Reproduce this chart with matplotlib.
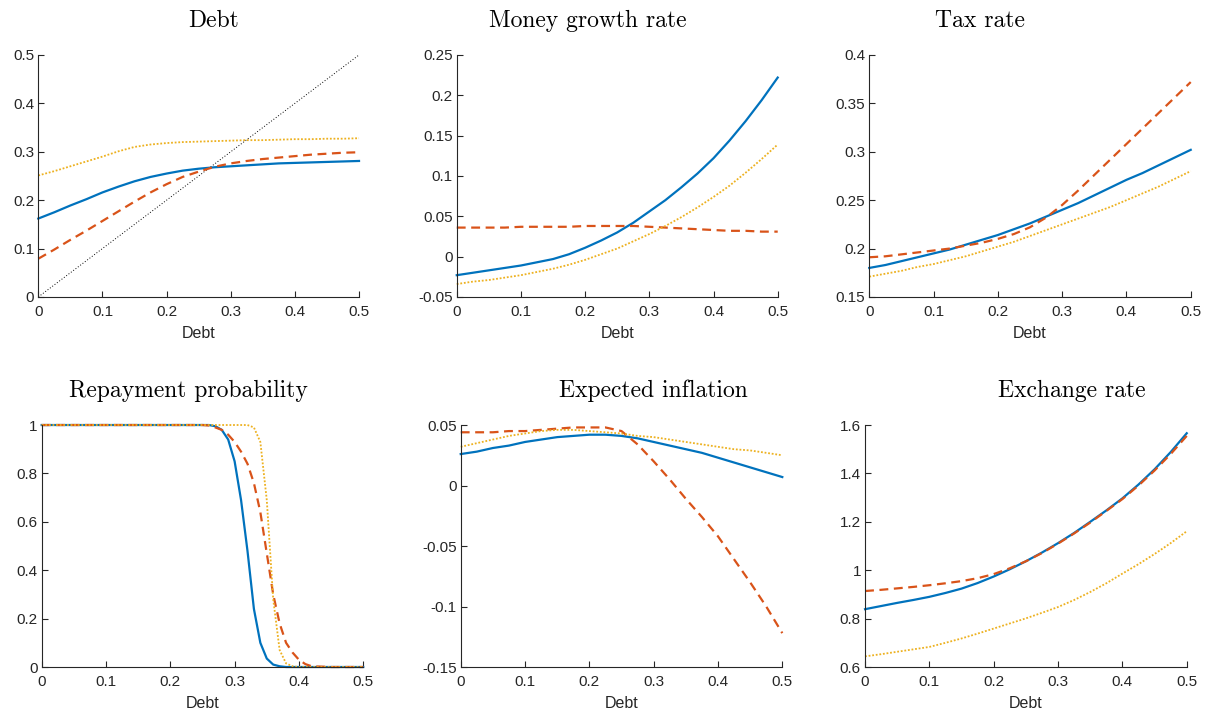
import matplotlib
matplotlib.use("Agg")
import matplotlib.pyplot as plt
from matplotlib.ticker import FuncFormatter

plt.rcParams['font.family'] = ['Liberation Sans', 'DejaVu Sans']
plt.rcParams['axes.unicode_minus'] = False

# common debt grid (step 0.025)
debt = [0, 0.025, 0.05, 0.075, 0.1, 0.125, 0.15, 0.175, 0.2, 0.225, 0.25,
        0.275, 0.3, 0.325, 0.35, 0.375, 0.4, 0.425, 0.45, 0.475, 0.5]

# Debt (next-period debt)
debt_blue = [0.162, 0.175, 0.189, 0.202, 0.216, 0.228, 0.239, 0.248, 0.255, 0.261, 0.265,
             0.268, 0.270, 0.272, 0.274, 0.276, 0.277, 0.278, 0.279, 0.280, 0.281]
debt_orange = [0.079, 0.098, 0.118, 0.137, 0.157, 0.177, 0.197, 0.216, 0.233, 0.248, 0.259,
               0.269, 0.276, 0.281, 0.285, 0.288, 0.291, 0.294, 0.296, 0.298, 0.299]
debt_yellow = [0.251, 0.260, 0.270, 0.280, 0.290, 0.301, 0.310, 0.315, 0.318, 0.320, 0.321,
               0.322, 0.323, 0.324, 0.324, 0.325, 0.326, 0.326, 0.327, 0.327, 0.328]

# Money growth rate
mg_blue = [-0.023, -0.020, -0.017, -0.014, -0.011, -0.007, -0.003, 0.003, 0.011, 0.020, 0.030,
           0.042, 0.056, 0.070, 0.086, 0.103, 0.122, 0.144, 0.168, 0.194, 0.222]
mg_orange = [0.036, 0.036, 0.036, 0.036, 0.037, 0.037, 0.037, 0.037, 0.038, 0.038, 0.038,
             0.038, 0.037, 0.036, 0.035, 0.034, 0.033, 0.032, 0.032, 0.031, 0.031]
mg_yellow = [-0.034, -0.031, -0.029, -0.026, -0.023, -0.019, -0.015, -0.010, -0.004, 0.003, 0.010,
             0.019, 0.028, 0.038, 0.049, 0.061, 0.074, 0.088, 0.104, 0.121, 0.139]

# Tax rate
tax_blue = [0.180, 0.183, 0.187, 0.191, 0.195, 0.199, 0.204, 0.209, 0.214, 0.220, 0.226,
            0.233, 0.240, 0.247, 0.255, 0.263, 0.271, 0.278, 0.286, 0.294, 0.302]
tax_orange = [0.191, 0.192, 0.194, 0.196, 0.198, 0.200, 0.203, 0.206, 0.210, 0.215, 0.222,
              0.232, 0.245, 0.260, 0.276, 0.292, 0.308, 0.324, 0.340, 0.356, 0.372]
tax_yellow = [0.171, 0.174, 0.177, 0.181, 0.184, 0.188, 0.192, 0.197, 0.202, 0.207, 0.213,
              0.219, 0.225, 0.231, 0.237, 0.243, 0.250, 0.257, 0.264, 0.272, 0.280]

# Repayment probability (finer grid around the drop)
debt_rp = [0, 0.1, 0.2, 0.25, 0.26, 0.27, 0.28, 0.29, 0.30, 0.31, 0.32, 0.33, 0.34, 0.35,
           0.36, 0.37, 0.38, 0.39, 0.40, 0.41, 0.42, 0.45, 0.5]
rp_blue = [1, 1, 1, 1, 1, 0.995, 0.98, 0.94, 0.85, 0.69, 0.48, 0.24, 0.10, 0.035,
           0.01, 0.003, 0, 0, 0, 0, 0, 0, 0]
rp_orange = [1, 1, 1, 1, 0.998, 0.99, 0.98, 0.96, 0.93, 0.89, 0.84, 0.76, 0.64, 0.47,
             0.30, 0.18, 0.10, 0.06, 0.03, 0.012, 0.003, 0, 0]
rp_yellow = [1, 1, 1, 1, 1, 1, 1, 1, 1, 1, 1, 0.99, 0.93, 0.69,
             0.28, 0.07, 0.015, 0.003, 0, 0, 0, 0, 0]

# Expected inflation
inf_blue = [0.026, 0.028, 0.031, 0.033, 0.036, 0.038, 0.040, 0.041, 0.042, 0.042, 0.041,
            0.039, 0.036, 0.033, 0.030, 0.027, 0.023, 0.019, 0.015, 0.011, 0.007]
inf_orange = [0.044, 0.044, 0.044, 0.045, 0.045, 0.046, 0.047, 0.048, 0.048, 0.048, 0.045,
              0.034, 0.020, 0.005, -0.011, -0.026, -0.042, -0.061, -0.080, -0.100, -0.122]
inf_yellow = [0.032, 0.035, 0.038, 0.041, 0.043, 0.045, 0.046, 0.046, 0.045, 0.044, 0.043,
              0.041, 0.040, 0.038, 0.036, 0.034, 0.032, 0.030, 0.029, 0.027, 0.025]

# Exchange rate
er_blue = [0.839, 0.852, 0.865, 0.877, 0.890, 0.906, 0.924, 0.947, 0.974, 1.004, 1.037,
           1.073, 1.112, 1.154, 1.200, 1.247, 1.297, 1.354, 1.417, 1.488, 1.566]
er_orange = [0.914, 0.919, 0.925, 0.931, 0.938, 0.946, 0.955, 0.967, 0.984, 1.008, 1.037,
             1.071, 1.110, 1.152, 1.197, 1.245, 1.294, 1.350, 1.412, 1.480, 1.555]
er_yellow = [0.644, 0.653, 0.663, 0.673, 0.683, 0.700, 0.718, 0.738, 0.759, 0.780, 0.801,
             0.824, 0.848, 0.877, 0.910, 0.946, 0.986, 1.025, 1.067, 1.112, 1.161]

titles = ["Debt", "Money growth rate", "Tax rate",
          "Repayment probability", "Expected inflation", "Exchange rate"]

BLUE, ORANGE, YELLOW = "#0072BD", "#D95319", "#EDB120"
AXC = "#262626"

# axes rectangles (fig fraction) and title x offsets (axes fraction)
rects = [(0.0317, 0.5835, 0.2655, 0.3394), (0.3781, 0.5835, 0.2657, 0.3394), (0.7196, 0.5835, 0.2661, 0.3394),
         (0.0345, 0.0645, 0.2662, 0.3394), (0.3814, 0.0645, 0.2662, 0.3394), (0.7161, 0.0645, 0.2663, 0.3394)]
title_x = [0.548, 0.407, 0.344, 0.456, 0.600, 0.642]
ylims = [(0, 0.5), (-0.05, 0.25), (0.15, 0.4), (0, 1), (-0.15, 0.05), (0.6, 1.6)]
yticks = [[0, 0.1, 0.2, 0.3, 0.4, 0.5],
          [-0.05, 0, 0.05, 0.1, 0.15, 0.2, 0.25],
          [0.15, 0.2, 0.25, 0.3, 0.35, 0.4],
          [0, 0.2, 0.4, 0.6, 0.8, 1],
          [-0.15, -0.1, -0.05, 0, 0.05],
          [0.6, 0.8, 1, 1.2, 1.4, 1.6]]

series = [(debt, debt_blue, debt_orange, debt_yellow),
          (debt, mg_blue, mg_orange, mg_yellow),
          (debt, tax_blue, tax_orange, tax_yellow),
          (debt_rp, rp_blue, rp_orange, rp_yellow),
          (debt, inf_blue, inf_orange, inf_yellow),
          (debt, er_blue, er_orange, er_yellow)]

fmt = FuncFormatter(lambda v, p: "%g" % round(v, 4))

fig = plt.figure(figsize=(12.08, 7.13), dpi=100)
for i in range(6):
    ax = fig.add_axes(rects[i])
    x, b, o, y = series[i]
    if i == 0:
        ax.plot([0, 0.5], [0, 0.5], color="black", linestyle=(0, (1, 2)), lw=0.7)
    ax.plot(x, b, color=BLUE, lw=1.6, clip_on=False)
    ax.plot(x, o, color=ORANGE, lw=1.6, linestyle=(0, (4, 2.5)), clip_on=False)
    ax.plot(x, y, color=YELLOW, lw=1.3, linestyle=(0, (1, 1)), clip_on=False)
    ax.set_xlim(0, 0.5)
    ax.set_ylim(*ylims[i])
    ax.set_xticks([0, 0.1, 0.2, 0.3, 0.4, 0.5])
    ax.set_yticks(yticks[i])
    ax.xaxis.set_major_formatter(fmt)
    ax.yaxis.set_major_formatter(fmt)
    ax.spines['top'].set_visible(False)
    ax.spines['right'].set_visible(False)
    for s in ['left', 'bottom']:
        ax.spines[s].set_color(AXC)
        ax.spines[s].set_linewidth(0.8)
    ax.tick_params(direction="in", length=4, width=0.8, colors=AXC,
                   labelsize=11, pad=3)
    ax.tick_params(axis="x", pad=5.5)
    ax.set_xlabel("Debt", fontsize=11.5, color=AXC, labelpad=5)
    ax.text(title_x[i], 1.116, titles[i], transform=ax.transAxes, ha="center",
            va="baseline", fontsize=17, family="cmr10", color="black")

fig.savefig("out.png", dpi=100)
